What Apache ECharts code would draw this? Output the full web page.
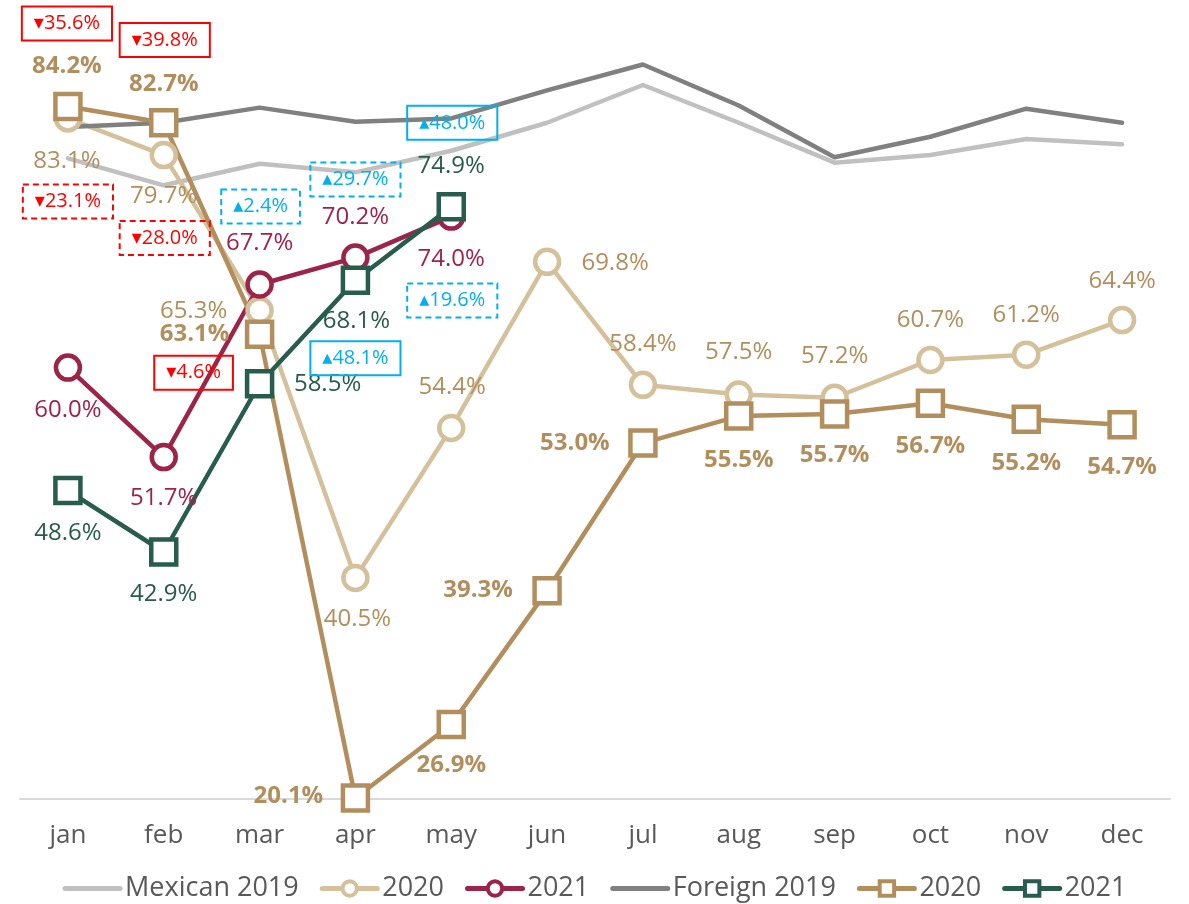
<!DOCTYPE html>
<html>
<head>
<meta charset="utf-8">
<script src="https://cdn.jsdelivr.net/npm/echarts@6/dist/echarts.min.js"></script>
<style>
  html, body {margin: 0; padding: 0; background: #fff;}
  #chart {width: 1189px; height: 904px;}
</style>
</head>
<body>
<div id="chart"></div>
<script>
const months = ['jan', 'feb', 'mar', 'apr', 'may', 'jun', 'jul', 'aug', 'sep', 'oct', 'nov', 'dec'];

const mexican2019 = [79.4, 76.9, 78.9, 78.1, 80.1, 82.7, 86.2, 82.7, 79.0, 79.7, 81.2, 80.7];
const mexican2020 = [83.1, 79.7, 65.3, 40.5, 54.4, 69.8, 58.4, 57.5, 57.2, 60.7, 61.2, 64.4];
const mexican2021 = [60.0, 51.7, 67.7, 70.2, 74.0];
const foreign2019 = [82.3, 82.7, 84.1, 82.8, 83.1, 85.7, 88.1, 84.3, 79.5, 81.4, 84.0, 82.7];
const foreign2020 = [84.2, 82.7, 63.1, 20.1, 26.9, 39.3, 53.0, 55.5, 55.7, 56.7, 55.2, 54.7];
const foreign2021 = [48.6, 42.9, 58.5, 68.1, 74.9];

// change vs previous year, as printed in the boxes
const mexicanChange = [-23.1, -28.0, 2.4, 29.7, 19.6];
const foreignChange = [-35.6, -39.8, -4.6, 48.1, 48.0];

const legendNames = {
  'Mexican 2019': 'Mexican 2019', 'Mexican 2020': '2020', 'Mexican 2021': '2021',
  'Foreign 2019': 'Foreign 2019', 'Foreign 2020': '2020', 'Foreign 2021': '2021'
};

const FONT = '"Open Sans", "DejaVu Sans", sans-serif';
const C = {
  mex19: '#c0c0c0', for19: '#808080',
  mex20: '#d4c19c', for20: '#b38e5d',
  mex21: '#9d2449', for21: '#285c4d',
  up: '#00b0f0', down: '#ff0000'
};

// label offsets from each point (dx, dy)
const mex20Offsets = [[-1, 43], [0, 41], [-66, 1], [2, 41], [1, -41], [68, 1], [0, -41], [0, -42], [0, -42], [0, -40], [0, -39], [0, -39]];
const for20Offsets = [[-1, -40], [0, -39], [-65, 0], [-67, -2], [0, 41], [-69, -1], [-68, 0], [0, 44], [0, 41], [0, 43], [0, 44], [0, 42]];
const mex21Offsets = [[0, 43], [0, 41], [0, -41], [0, -40], [0, 43]];
const for21Offsets = [[0, 43], [0, 42], [68, 0], [1, 41], [0, -41]];
const mexBoxOffsets = [[0, -166], [1, -219], [1, -78], [0, -78], [1, 84]];
const forBoxOffsets = [[-1, -467], [1, -512], [-66, -11], [0, 78], [1, -84]];

const pct = v => v.toFixed(1) + '%';

function points(values, offsets) {
  return values.map((v, i) => ({value: v, label: {offset: offsets[i]}}));
}

function boxes(changes, values, offsets, dashed) {
  return changes.map((c, i) => {
    const color = c < 0 ? C.down : C.up;
    return {
      coord: [i, values[i]],
      value: c,
      label: {
        offset: offsets[i],
        color: color,
        borderColor: color,
        borderType: dashed ? [6, 4] : 'solid'
      }
    };
  });
}

function markerBoxes(changes, values, offsets, dashed) {
  return {
    symbol: 'rect',
    symbolSize: 1,
    silent: true,
    itemStyle: {color: 'rgba(0,0,0,0)'},
    label: {
      show: true,
      position: 'inside',
      fontFamily: FONT,
      fontSize: 20,
      borderWidth: 2,
      padding: [8, 12, 6, 12],
      formatter: p => (p.value < 0 ? '\u25BE' : '\u25B4') + Math.abs(p.value).toFixed(1) + '%'
    },
    data: boxes(changes, values, offsets, dashed)
  };
}

function lineSeries(name, color, values, opts) {
  return Object.assign({
    name: name,
    type: 'line',
    data: values,
    color: color,
    lineStyle: {color: color, width: 4.5, cap: 'round', join: 'round'},
    symbol: 'none',
    animation: false
  }, opts);
}

function marked(symbol, size, color) {
  return {
    symbol: symbol,
    symbolSize: size,
    showAllSymbol: true,
    itemStyle: {color: '#fff', borderColor: color, borderWidth: 4.5}
  };
}

function pointLabel(color, bold) {
  return {
    show: true,
    position: 'inside',
    color: color,
    fontFamily: FONT,
    fontSize: 24,
    fontWeight: bold ? 'bold' : 'normal',
    formatter: p => pct(p.value)
  };
}

function legendItem(name, color, hollow) {
  return {
    name: name,
    itemStyle: hollow
      ? {color: '#fff', borderColor: color, borderWidth: 4}
      : {opacity: 0},
    lineStyle: {color: color, width: 5}
  };
}

const chart = echarts.init(document.getElementById('chart'));

chart.setOption({
  animation: false,
  textStyle: {fontFamily: FONT},
  grid: {left: 20, right: 19, top: 44, bottom: 105},
  xAxis: {
    type: 'category',
    data: months,
    boundaryGap: true,
    axisTick: {show: false},
    axisLine: {lineStyle: {color: '#d9d9d9', width: 2}},
    axisLabel: {color: '#595959', fontSize: 26, margin: 24, fontFamily: FONT}
  },
  yAxis: {
    type: 'value',
    min: 20,
    max: 90,
    show: false,
    splitLine: {show: false}
  },
  legend: {
    top: 870,
    left: 'center',
    itemWidth: 55,
    itemHeight: 18,
    itemGap: 21,
    itemStyle: {borderWidth: 4},
    textStyle: {color: '#595959', fontSize: 27, fontFamily: FONT},
    formatter: name => legendNames[name],
    data: [
      legendItem('Mexican 2019', C.mex19, false),
      legendItem('Mexican 2020', C.mex20, true),
      legendItem('Mexican 2021', C.mex21, true),
      legendItem('Foreign 2019', C.for19, false),
      legendItem('Foreign 2020', C.for20, true),
      legendItem('Foreign 2021', C.for21, true)
    ]
  },
  series: [
    lineSeries('Mexican 2019', C.mex19, mexican2019, {}),
    lineSeries('Mexican 2020', C.mex20, points(mexican2020, mex20Offsets), Object.assign(
      marked('circle', 24, C.mex20), {label: pointLabel(C.for20, false)})),
    lineSeries('Mexican 2021', C.mex21, points(mexican2021, mex21Offsets), Object.assign(
      marked('circle', 24, C.mex21), {
        label: pointLabel(C.mex21, false),
        markPoint: markerBoxes(mexicanChange, mexican2021, mexBoxOffsets, true)
      })),
    lineSeries('Foreign 2019', C.for19, foreign2019, {}),
    lineSeries('Foreign 2020', C.for20, points(foreign2020, for20Offsets), Object.assign(
      marked('rect', 25, C.for20), {label: pointLabel(C.for20, true)})),
    lineSeries('Foreign 2021', C.for21, points(foreign2021, for21Offsets), Object.assign(
      marked('rect', 25, C.for21), {
        label: pointLabel(C.for21, false),
        markPoint: markerBoxes(foreignChange, foreign2021, forBoxOffsets, false)
      }))
  ]
});
</script>
</body>
</html>
